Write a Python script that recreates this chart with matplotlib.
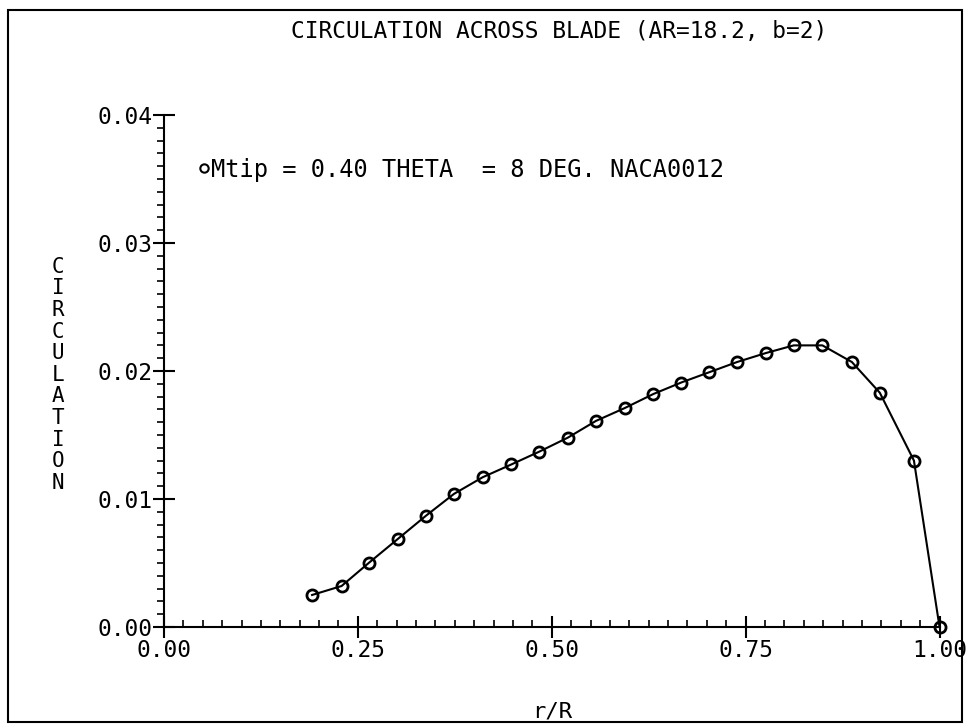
import matplotlib
matplotlib.use("Agg")
import matplotlib.pyplot as plt
from matplotlib.lines import Line2D
from matplotlib.patches import Rectangle
from matplotlib.ticker import MultipleLocator, FormatStrFormatter

plt.rcParams["font.family"] = ["DejaVu Sans Mono"]

# r/R stations and circulation
r_R = [0.191, 0.229, 0.264, 0.302, 0.338, 0.374, 0.411, 0.448, 0.484,
       0.521, 0.557, 0.594, 0.631, 0.667, 0.703, 0.739, 0.776, 0.812,
       0.849, 0.887, 0.923, 0.967, 1.000]
circ = [0.0025, 0.0032, 0.0050, 0.0069, 0.0087, 0.0104, 0.0117, 0.0127, 0.0137,
        0.0148, 0.0161, 0.0171, 0.0182, 0.0191, 0.0199, 0.0207, 0.0214, 0.0220,
        0.0220, 0.0207, 0.0183, 0.0130, 0.0000]

title = "CIRCULATION ACROSS BLADE (AR=18.2, b=2)"
case_label = "Mtip = 0.40 THETA  = 8 DEG. NACA0012"

fig = plt.figure(figsize=(9.8, 7.25), dpi=100)
ax = fig.add_axes([0.1673, 0.1352, 0.7914, 0.7062])

ax.plot(r_R, circ, color="black", lw=1.5, marker="o", ms=8,
        mfc="none", mec="black", mew=2.0, clip_on=False)

ax.set_xlim(0, 1.0)
ax.set_ylim(0, 0.04)
ax.xaxis.set_major_locator(MultipleLocator(0.25))
ax.xaxis.set_minor_locator(MultipleLocator(0.025))
ax.yaxis.set_major_locator(MultipleLocator(0.01))
ax.yaxis.set_minor_locator(MultipleLocator(0.001))
ax.xaxis.set_major_formatter(FormatStrFormatter("%.2f"))
ax.yaxis.set_major_formatter(FormatStrFormatter("%.2f"))

for s in ["top", "right"]:
    ax.spines[s].set_visible(False)
for s in ["left", "bottom"]:
    ax.spines[s].set_linewidth(1.5)

ax.tick_params(axis="x", which="major", direction="inout", length=16, width=1.5,
               labelsize=16.5, pad=1)
ax.tick_params(axis="x", which="minor", direction="in", length=5, width=1.2)
ax.tick_params(axis="y", which="major", direction="inout", length=16, width=1.5,
               labelsize=16.5, pad=0)
ax.tick_params(axis="y", which="minor", direction="out", length=5, width=1.2)

handle = Line2D([], [], marker="o", ls="none", mfc="none", mec="black",
                mew=1.5, ms=6)
ax.legend([handle], [case_label], loc="upper left",
          bbox_to_anchor=(0.033, 0.935), frameon=False, fontsize=17,
          handlelength=0.4, handletextpad=0.1, borderaxespad=0)

fig.text(0.571, 0.956, title, ha="center", va="center", fontsize=16.5)
fig.text(0.059, 0.483, "\n".join("CIRCULATION"), ha="center", va="center",
         fontsize=15, linespacing=1.1)
fig.text(0.563, 0.018, "r/R", ha="center", va="center", fontsize=16)

fig.patches.append(Rectangle((8 / 980, 3 / 725), 954 / 980, 712 / 725,
                             transform=fig.transFigure, fill=False,
                             ec="black", lw=1.5))

fig.savefig("out.png", dpi=100)
